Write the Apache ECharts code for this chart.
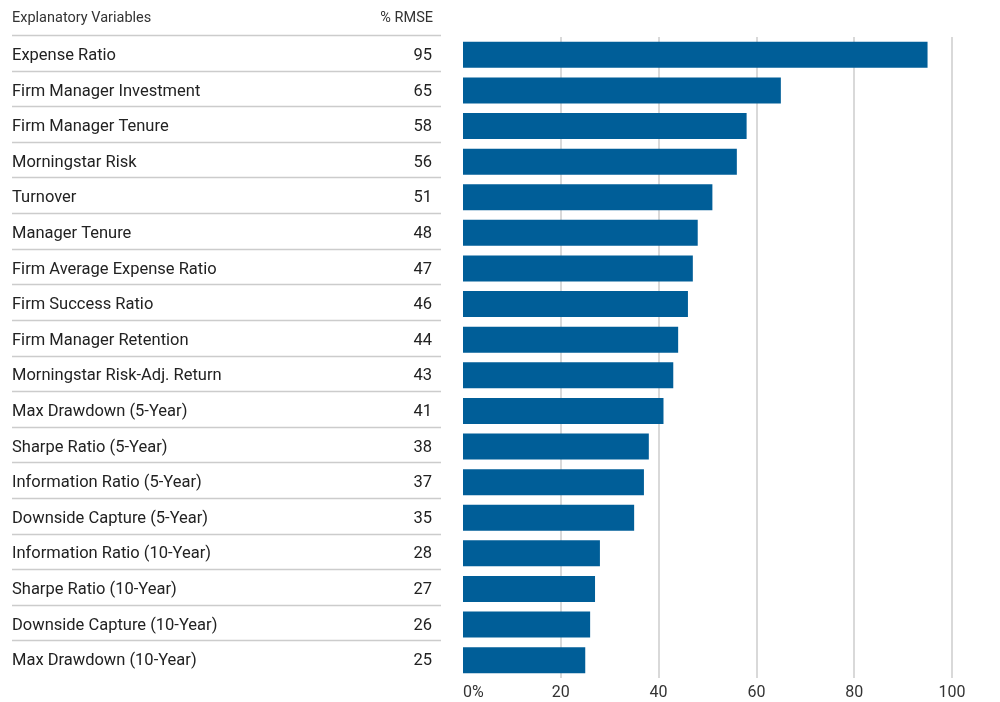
<!DOCTYPE html>
<html>
<head>
<meta charset="utf-8">
<script src="https://cdn.jsdelivr.net/npm/echarts@6/dist/echarts.min.js"></script>
<style>
  html, body { margin: 0; padding: 0; background: #fff; }
  #chart { width: 1000px; height: 702px; }
</style>
</head>
<body>
<div id="chart"></div>
<script>
// Explanatory variables ranked by % RMSE
const categories = [
  'Expense Ratio',
  'Firm Manager Investment',
  'Firm Manager Tenure',
  'Morningstar Risk',
  'Turnover',
  'Manager Tenure',
  'Firm Average Expense Ratio',
  'Firm Success Ratio',
  'Firm Manager Retention',
  'Morningstar Risk-Adj. Return',
  'Max Drawdown (5-Year)',
  'Sharpe Ratio (5-Year)',
  'Information Ratio (5-Year)',
  'Downside Capture (5-Year)',
  'Information Ratio (10-Year)',
  'Sharpe Ratio (10-Year)',
  'Downside Capture (10-Year)',
  'Max Drawdown (10-Year)'
];
const rmse = [95, 65, 58, 56, 51, 48, 47, 46, 44, 43, 41, 38, 37, 35, 28, 27, 26, 25];
const xTicks = [0, 20, 40, 60, 80, 100];
const headerName = 'Explanatory Variables';
const headerValue = '% RMSE';

const FONT = 'Roboto, "Liberation Sans", Arial, sans-serif';
const TEXT = '#222';
const RULE = '#cccccc';
const BAR = '#005e98';

const chart = echarts.init(document.getElementById('chart'), null, { renderer: 'canvas' });

// row text sits a little below the band centre
const rowLabel = {
  fontSize: 16.5,
  color: TEXT,
  fontFamily: FONT,
  verticalAlign: 'top',
  lineHeight: 18,
  padding: [-8, 0, 0, 0]
};

chart.setOption({
  animation: false,
  textStyle: { fontFamily: FONT },
  grid: { left: 463, right: 48, top: 37, height: 641, containLabel: false },
  graphic: [
    { type: 'text', left: 12, top: 11,
      style: { text: headerName, font: '14.5px ' + FONT, fill: '#333' } },
    { type: 'text', x: 433, y: 11,
      style: { text: headerValue, font: '14.5px ' + FONT, fill: '#333', textAlign: 'right' } }
  ],
  xAxis: {
    type: 'value',
    min: xTicks[0],
    max: xTicks[xTicks.length - 1],
    interval: xTicks[1] - xTicks[0],
    axisLine: { show: false },
    axisTick: { show: false },
    splitLine: { show: true, showMinLine: false, lineStyle: { color: RULE, width: 1.5 } },
    axisLabel: {
      margin: 7,
      fontSize: 16,
      color: '#333',
      fontFamily: FONT,
      alignMinLabel: 'left',
      formatter: v => (v === 0 ? v + '%' : String(v))
    }
  },
  yAxis: [
    {
      type: 'category',
      data: categories,
      inverse: true,
      axisLine: { show: false },
      axisTick: { show: false },
      splitLine: { show: false },
      axisLabel: Object.assign({ align: 'left', margin: 451 }, rowLabel)
    },
    {
      type: 'category',
      data: categories,
      inverse: true,
      position: 'left',
      offset: 0,
      axisLine: { show: false },
      axisTick: { show: false },
      splitLine: { show: false },
      axisLabel: Object.assign({
        align: 'right', margin: 31,
        formatter: (v, i) => String(rmse[i])
      }, rowLabel)
    }
  ],
  series: [
    {
      type: 'bar',
      yAxisIndex: 0,
      data: rmse,
      barWidth: 26,
      itemStyle: { color: BAR },
      z: 3
    },
    {
      // table rules: one above each row (header rule included)
      type: 'custom',
      yAxisIndex: 0,
      clip: false,
      silent: true,
      data: categories.map((c, i) => [0, i]),
      encode: { x: 0, y: 1 },
      renderItem: (params, api) => {
        const p = api.coord([0, api.value(1)]);
        const band = api.size([0, 1])[1];
        const y = Math.round(p[1] - band / 2) - 1.5;
        return {
          type: 'line',
          shape: { x1: 12, y1: y, x2: 441, y2: y },
          style: { stroke: RULE, lineWidth: 1.5 }
        };
      }
    }
  ]
});
</script>
</body>
</html>
